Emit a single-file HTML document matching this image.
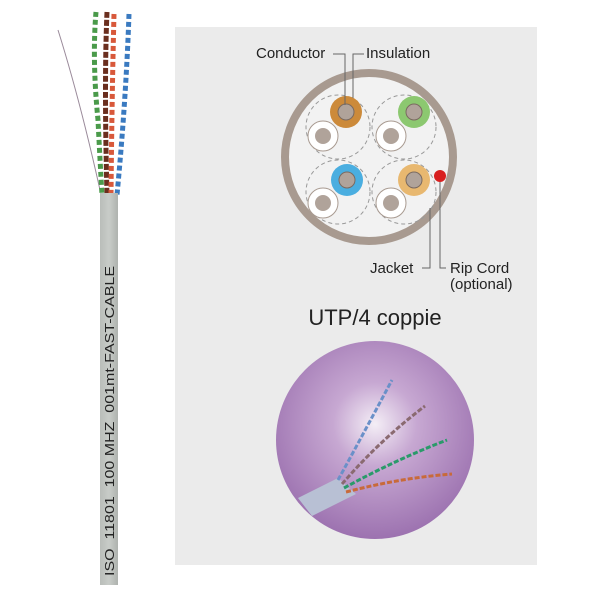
<!DOCTYPE html>
<html><head><style>
body{margin:0;width:600px;height:600px;background:#fff;overflow:hidden;position:relative;font-family:"Liberation Sans",sans-serif}
</style></head><body>
<svg width="600" height="600" style="position:absolute;left:0;top:0">
<defs>
<radialGradient id="pg" cx="0.5" cy="0.42" r="0.6">
<stop offset="0" stop-color="#f4eef6"/><stop offset="0.35" stop-color="#c7a8d2"/><stop offset="1" stop-color="#9a6fae"/>
</radialGradient>
<linearGradient id="jk" x1="0" x2="1"><stop offset="0" stop-color="#b9bdb9"/><stop offset="0.5" stop-color="#c8ccc8"/><stop offset="1" stop-color="#aeb2ae"/></linearGradient>
</defs>
<rect x="175" y="27" width="362" height="538" fill="#ebebeb"/>
<path d="M58 30 Q80 100 100 190" stroke="#9a8a9a" stroke-width="1" fill="none"/>
<path d="M96 12 Q92 60 98 120 Q100 160 102 195" stroke="#4a9a4a" stroke-width="5" stroke-dasharray="5 3" fill="none"/>
<path d="M107 12 Q104 80 107 195" stroke="#6a2e1e" stroke-width="5" stroke-dasharray="6 2" fill="none"/>
<path d="M114 14 Q112 90 111 195" stroke="#d8583a" stroke-width="5" stroke-dasharray="5 3" fill="none"/>
<path d="M129 14 Q126 100 117 195" stroke="#3a7ac0" stroke-width="5" stroke-dasharray="5 3" fill="none"/>
<rect x="100" y="193" width="18" height="392" fill="url(#jk)"/>
<text transform="translate(114,576) rotate(-90)" font-size="13" fill="#222" textLength="310" lengthAdjust="spacingAndGlyphs" xml:space="preserve">ISO  11801  100 MHZ  001mt-FAST-CABLE</text>
<circle cx="369" cy="157" r="84" fill="#f2f2f2" stroke="#a89a90" stroke-width="8"/>
<g fill="none" stroke="#999" stroke-dasharray="4 3" stroke-width="1">
<circle cx="338" cy="127" r="32"/><circle cx="404" cy="127" r="32"/>
<circle cx="338" cy="192" r="32"/><circle cx="404" cy="192" r="32"/>
</g>
<g stroke="#a89a90" stroke-width="1">
<circle cx="323" cy="136" r="15" fill="#fff"/><circle cx="391" cy="136" r="15" fill="#fff"/>
<circle cx="323" cy="203" r="15" fill="#fff"/><circle cx="391" cy="203" r="15" fill="#fff"/>
</g>
<g fill="#b0a39a">
<circle cx="323" cy="136" r="8"/><circle cx="391" cy="136" r="8"/>
<circle cx="323" cy="203" r="8"/><circle cx="391" cy="203" r="8"/>
</g>
<circle cx="346" cy="112" r="16" fill="#cc8a3a"/><circle cx="414" cy="112" r="16" fill="#8cc870"/>
<circle cx="347" cy="180" r="16" fill="#4aaee0"/><circle cx="414" cy="180" r="16" fill="#e8b870"/>
<g fill="#b0a39a" stroke="#7a6a60" stroke-width="1">
<circle cx="346" cy="112" r="8"/><circle cx="414" cy="112" r="8"/>
<circle cx="347" cy="180" r="8"/><circle cx="414" cy="180" r="8"/>
</g>
<circle cx="440" cy="176" r="6" fill="#d82020"/>
<g stroke="#666" stroke-width="1" fill="none">
<path d="M333 54 H345 V105"/><path d="M364 54 H353 V98"/>
<path d="M422 268 H430 V208"/><path d="M446 268 H440 V182"/>
</g>
<g font-size="15" fill="#222">
<text x="256" y="58">Conductor</text>
<text x="366" y="58">Insulation</text>
<text x="370" y="273">Jacket</text>
<text x="450" y="273">Rip Cord</text>
<text x="450" y="289">(optional)</text>
</g>
<text x="375" y="325" font-size="22" text-anchor="middle" fill="#222">UTP/4 coppie</text>
<circle cx="375" cy="440" r="99" fill="url(#pg)"/>
<path d="M298 498 L338 478 L356 494 L312 516 Z" fill="#b8c0d4"/>
<g fill="none" stroke-width="3">
<path d="M338 480 Q360 440 392 380" stroke="#6a90c8" stroke-dasharray="5 2"/>
<path d="M342 484 Q380 440 425 406" stroke="#8a6a70" stroke-dasharray="5 2"/>
<path d="M344 488 Q395 460 447 440" stroke="#2a9a6a" stroke-dasharray="5 2"/>
<path d="M346 492 Q400 478 452 474" stroke="#c86a3a" stroke-dasharray="5 2"/>
</g>
</svg>
</body></html>
